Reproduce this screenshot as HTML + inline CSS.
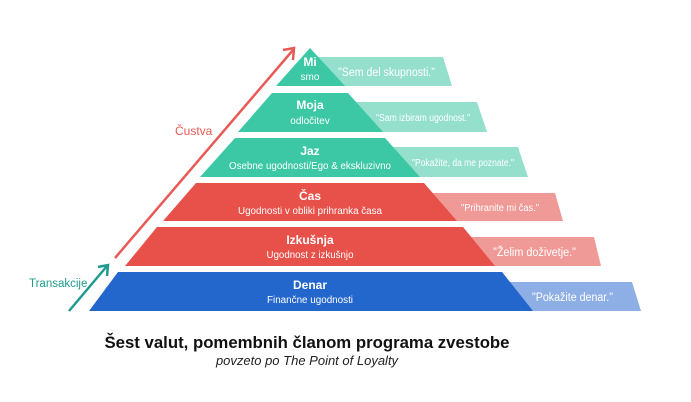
<!DOCTYPE html>
<html><head><meta charset="utf-8"><style>
html,body{margin:0;padding:0;background:#fff;}
svg{display:block;font-family:"Liberation Sans","DejaVu Sans",sans-serif;}
</style></head><body>
<svg width="691" height="402" viewBox="0 0 691 402" xmlns="http://www.w3.org/2000/svg">
<rect width="691" height="402" fill="#fff"/>
<polygon points="318,57 443,57 452,86 318,86" fill="#94e0cc"/>
<polygon points="355,102 477,102 487,132 355,132" fill="#94e0cc"/>
<polygon points="392,147 518,147 528,177 392,177" fill="#94e0cc"/>
<polygon points="425,193 555,193 563,221 425,221" fill="#ef9a96"/>
<polygon points="465,237 594,237 601,266 465,266" fill="#ef9a96"/>
<polygon points="505,282 632,282 641,311 505,311" fill="#8eaee6"/>
<polygon points="310,48 345,86 276,86" fill="#3cc8a4"/>
<polygon points="272,93 348,93 383,132 238,132" fill="#3cc8a4"/>
<polygon points="235,138 385,138 420,177 200,177" fill="#3cc8a4"/>
<polygon points="196,183 424,183 457,221 163,221" fill="#e8504a"/>
<polygon points="157,227 463,227 495,266 125,266" fill="#e8504a"/>
<polygon points="118,272 502,272 533,311 89,311" fill="#2366cc"/>
<g fill="#fff" font-size="11.5">
<text x="338" y="76" textLength="97" lengthAdjust="spacingAndGlyphs">"Sem del skupnosti."</text>
<text x="376" y="121" font-size="10" textLength="94" lengthAdjust="spacingAndGlyphs">"Sam izbiram ugodnost."</text>
<text x="412" y="166" font-size="10" textLength="102" lengthAdjust="spacingAndGlyphs">"Pokažite, da me poznate."</text>
<text x="461" y="211" font-size="10" textLength="78" lengthAdjust="spacingAndGlyphs">"Prihranite mi čas."</text>
<text x="493" y="256" textLength="83" lengthAdjust="spacingAndGlyphs">"Želim doživetje."</text>
<text x="532" y="301" textLength="81" lengthAdjust="spacingAndGlyphs">"Pokažite denar."</text>
</g>
<g fill="#fff" text-anchor="middle">
<text x="310" y="66" font-size="12" font-weight="bold">Mi</text>
<text x="310" y="80" font-size="10">smo</text>
<text x="310" y="109" font-size="12" font-weight="bold">Moja</text>
<text x="310" y="124" font-size="10">odločitev</text>
<text x="310" y="155" font-size="12" font-weight="bold">Jaz</text>
<text x="310" y="169" font-size="10" textLength="162" lengthAdjust="spacingAndGlyphs">Osebne ugodnosti/Ego &amp; ekskluzivno</text>
<text x="310" y="200" font-size="12" font-weight="bold">Čas</text>
<text x="310" y="214" font-size="10" textLength="144" lengthAdjust="spacingAndGlyphs">Ugodnosti v obliki prihranka časa</text>
<text x="310" y="244" font-size="12" font-weight="bold">Izkušnja</text>
<text x="310" y="258" font-size="10" textLength="87" lengthAdjust="spacingAndGlyphs">Ugodnost z izkušnjo</text>
<text x="310" y="289" font-size="12" font-weight="bold">Denar</text>
<text x="310" y="303" font-size="10" textLength="86" lengthAdjust="spacingAndGlyphs">Finančne ugodnosti</text>
</g>
<line x1="115" y1="258" x2="293" y2="50" stroke="#e85a55" stroke-width="2.5"/>
<polyline points="283,50 294,48 293,60" fill="none" stroke="#e85a55" stroke-width="2.5"/>
<line x1="69" y1="311" x2="107" y2="266" stroke="#1f9a90" stroke-width="2.5"/>
<polyline points="98,267 108,265 107,276" fill="none" stroke="#1f9a90" stroke-width="2.5"/>
<text x="175" y="135" fill="#e85a55" font-size="12">Čustva</text>
<text x="29" y="287" fill="#1f9a90" font-size="11.5">Transakcije</text>
<text x="307" y="348" text-anchor="middle" font-size="16.8" font-weight="bold" fill="#111" textLength="405" lengthAdjust="spacingAndGlyphs">Šest valut, pomembnih članom programa zvestobe</text>
<text x="307" y="365" text-anchor="middle" font-size="13" font-style="italic" fill="#222">povzeto po The Point of Loyalty</text>
</svg>
</body></html>
